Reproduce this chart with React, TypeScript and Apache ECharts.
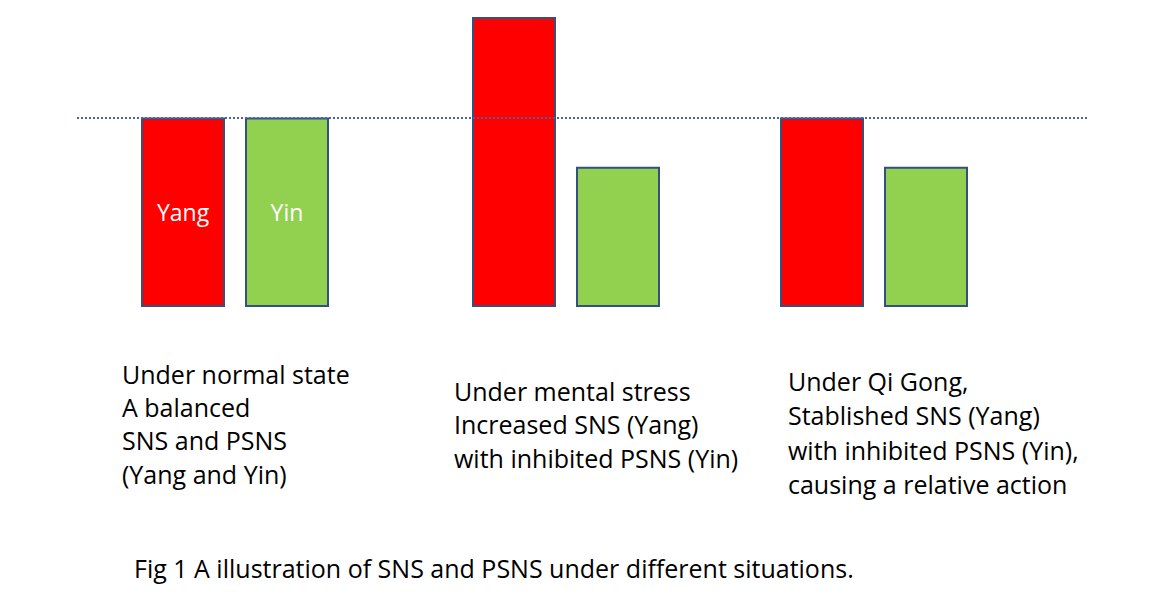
import React, { useEffect, useRef } from "react";
import * as echarts from "echarts";

// Bar positions (in x-units) and relative levels (normal = 100)
const groups = ["Under normal state", "Under mental stress", "Under Qi Gong"];
const yangX = [1.83, 5.14, 8.22];
const yinX = [2.87, 6.18, 9.26];
const yangValues = [100, 153, 100];
const yinValues = [100, 74, 74];
const baselineLevel = 100;

const captions = [
  "Under normal state\nA balanced\nSNS and PSNS\n(Yang and Yin)",
  "Under mental stress\nIncreased SNS (Yang)\nwith inhibited PSNS (Yin)",
  "Under Qi Gong,\nStablished SNS (Yang)\nwith inhibited PSNS (Yin),\ncausing a relative action",
];
const figCaption = "Fig 1 A illustration of SNS and PSNS under different situations.";

const FONT = "'Open Sans', 'Noto Sans', sans-serif";

export default function App() {
  const ref = useRef<HTMLDivElement>(null);
  useEffect(() => {
    document.body.style.margin = "0";
    const chart = echarts.init(ref.current!, null, { renderer: "svg" });
    const barStyle = (color: string) => ({
      color,
      borderColor: "#34507e",
      borderWidth: 2,
    });
    chart.setOption({
      animation: false,
      backgroundColor: "#ffffff",
      grid: { left: 0, right: 0, top: 17, bottom: 294 },
      xAxis: { type: "value", min: 0, max: 11.7, show: false },
      yAxis: { type: "value", min: 0, max: 153, show: false },
      series: [
        {
          name: "Yang",
          type: "bar",
          barWidth: 84,
          barGap: "-100%",
          itemStyle: barStyle("#ff0000"),
          data: yangX.map((x, i) => ({
            value: [x, yangValues[i]],
            label: {
              show: i === 0,
              position: "inside",
              formatter: "Yang",
              color: "#ffffff",
              fontSize: 23,
              fontFamily: FONT,
            },
          })),
          markLine: {
            silent: true,
            symbol: "none",
            label: { show: false },
            lineStyle: { type: [2, 2], color: "#4a62ad", width: 2 },
            data: [[{ coord: [0.77, baselineLevel] }, { coord: [10.87, baselineLevel] }]],
            z: 10,
          },
        },
        {
          name: "Yin",
          type: "bar",
          barWidth: 84,
          barGap: "-100%",
          itemStyle: barStyle("#92d050"),
          data: yinX.map((x, i) => ({
            value: [x, yinValues[i]],
            label: {
              show: i === 0,
              position: "inside",
              formatter: "Yin",
              color: "#ffffff",
              fontSize: 23,
              fontFamily: FONT,
            },
          })),
        },
      ],
      graphic: [
        { type: "text", left: 122, top: 357, style: { text: captions[0], font: `25px ${FONT}`, lineHeight: 33.3, fill: "#000" } },
        { type: "text", left: 454, top: 374, style: { text: captions[1], font: `25px ${FONT}`, lineHeight: 33.5, fill: "#000" } },
        { type: "text", left: 788, top: 364, style: { text: captions[2], font: `25px ${FONT}`, lineHeight: 34.3, fill: "#000" } },
        { type: "text", left: 134, top: 552, style: { text: figCaption, font: `25px ${FONT}`, lineHeight: 32, fill: "#000" } },
      ],
    });
    return () => chart.dispose();
  }, []);
  return <div ref={ref} style={{ width: 1170, height: 601 }} />;
}
